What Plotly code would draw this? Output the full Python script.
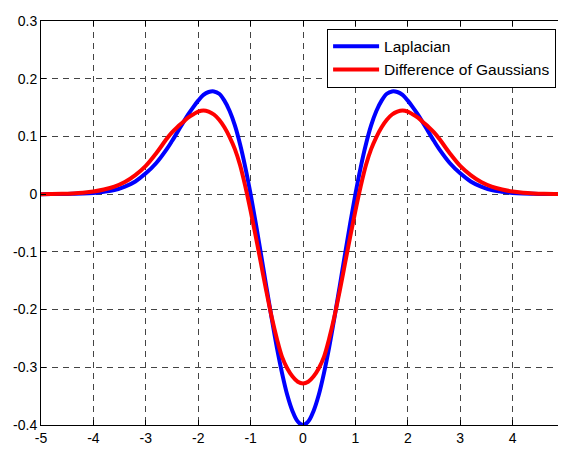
import plotly.graph_objects as go

x_vals = [-5.0, -4.8, -4.6, -4.4, -4.2, -4.0, -3.8, -3.6, -3.4, -3.2, -3.0, -2.8,
          -2.6, -2.5, -2.4, -2.3, -2.2, -2.1, -2.0, -1.9, -1.8, -1.7, -1.6, -1.5, -1.4,
          -1.3, -1.2, -1.1, -1.0, -0.9, -0.8, -0.7, -0.6, -0.5, -0.4, -0.3, -0.2, -0.1,
          0.0,
          0.1, 0.2, 0.3, 0.4, 0.5, 0.6, 0.7, 0.8, 0.9, 1.0, 1.1, 1.2, 1.3, 1.4, 1.5,
          1.6, 1.7, 1.8, 1.9, 2.0, 2.1, 2.2, 2.3, 2.4, 2.5, 2.6,
          2.8, 3.0, 3.2, 3.4, 3.6, 3.8, 4.0, 4.2, 4.4, 4.6, 4.8, 5.0]

laplacian = [0.0, 0.0001, 0.0002, 0.0005, 0.001, 0.002, 0.004, 0.007, 0.013, 0.022, 0.036, 0.054,
             0.078, 0.092, 0.107, 0.122, 0.137, 0.150, 0.162, 0.172, 0.177, 0.178, 0.174, 0.162,
             0.144, 0.119, 0.086, 0.046, 0.000, -0.051, -0.105, -0.160, -0.214, -0.265, -0.310,
             -0.348, -0.376, -0.394,
             -0.400,
             -0.394, -0.376, -0.348, -0.310, -0.265, -0.214, -0.160, -0.105, -0.051, 0.000,
             0.046, 0.086, 0.119, 0.144, 0.162, 0.174, 0.178, 0.177, 0.172, 0.162, 0.150,
             0.137, 0.122, 0.107, 0.092, 0.078,
             0.054, 0.036, 0.022, 0.013, 0.007, 0.004, 0.002, 0.001, 0.0005, 0.0002, 0.0001, 0.0]

dog = [0.0, 0.0002, 0.0006, 0.0013, 0.0025, 0.0045, 0.008, 0.013, 0.021, 0.033, 0.049, 0.071,
       0.096, 0.107, 0.116, 0.124, 0.132, 0.138, 0.143, 0.145, 0.143, 0.138, 0.129, 0.116,
       0.099, 0.078, 0.050, 0.013, -0.029, -0.074, -0.121, -0.168, -0.212, -0.250, -0.282,
       -0.302, -0.316, -0.325,
       -0.328,
       -0.325, -0.316, -0.302, -0.282, -0.250, -0.212, -0.168, -0.121, -0.074, -0.029,
       0.013, 0.050, 0.078, 0.099, 0.116, 0.129, 0.138, 0.143, 0.145, 0.143, 0.138,
       0.132, 0.124, 0.116, 0.107, 0.096,
       0.071, 0.049, 0.033, 0.021, 0.013, 0.008, 0.0045, 0.0025, 0.0013, 0.0006, 0.0002, 0.0]

x_ticks = [-5, -4, -3, -2, -1, 0, 1, 2, 3, 4, 5]
y_ticks = [-0.4, -0.3, -0.2, -0.1, 0, 0.1, 0.2, 0.3]
y_tick_text = ["-0.4", "-0.3", "-0.2", "-0.1", "0", "0.1", "0.2", "0.3"]

fig = go.Figure()
fig.add_trace(go.Scatter(x=x_vals, y=laplacian, mode="lines", name="Laplacian",
                         line=dict(color="#0000ff", width=4, shape="spline")))
fig.add_trace(go.Scatter(x=x_vals, y=dog, mode="lines", name="Difference of Gaussians",
                         line=dict(color="#ff0000", width=4, shape="spline")))

font_family = "Liberation Sans, Arial, sans-serif"
axis_common = dict(
    showline=True, linecolor="black", linewidth=1, mirror="ticks",
    ticks="inside", ticklen=5, tickcolor="black",
    showgrid=True, gridcolor="#444444", gridwidth=1, griddash="6px,5px",
    zeroline=False, ticklabeloverflow="allow",
    tickfont=dict(family=font_family, size=14, color="black"),
)

fig.update_xaxes(range=[-5, 5], tickvals=x_ticks, ticktext=[str(t) for t in x_ticks],
                 **axis_common)
fig.update_yaxes(range=[-0.4, 0.3], tickvals=y_ticks, ticktext=y_tick_text, **axis_common)

fig.update_layout(
    width=566, height=450,
    margin=dict(l=32, r=9, t=5, b=33),
    paper_bgcolor="white", plot_bgcolor="white",
    font=dict(family=font_family, size=14, color="black"),
    legend=dict(x=0.983, y=0.981, xanchor="right", yanchor="top",
                bgcolor="white", bordercolor="black", borderwidth=1,
                itemwidth=46, font=dict(family=font_family, size=15.5),
                tracegroupgap=0),
    showlegend=True,
)

fig.write_html("out.html")
